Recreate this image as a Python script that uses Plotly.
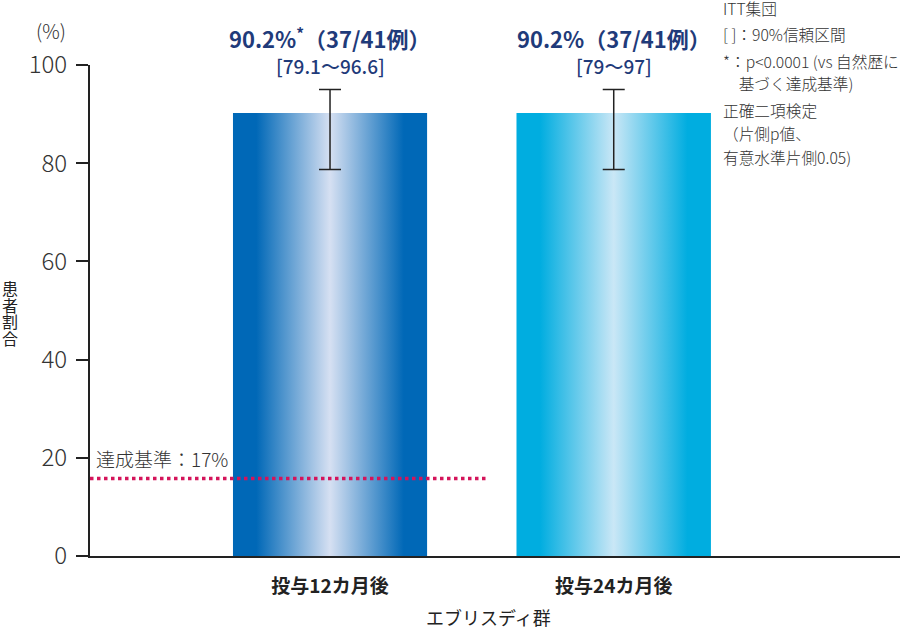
import plotly.graph_objects as go

categories = ["投与12カ月後", "投与24カ月後"]
rates = [90.2, 90.2]
ci_upper = [95.0, 95.0]
ci_lower = [78.7, 78.7]
top_labels = ["90.2%<sup>*</sup>（37/41例）", "90.2%（37/41例）"]
ci_labels = ["[79.1～96.6]", "[79～97]"]
threshold_value = 15.8
threshold_text = "達成基準：17%"
y_ticks = [0, 20, 40, 60, 80, 100]
notes = ["ITT集団", "[ ]：90%信頼区間", "*：p<0.0001 (vs 自然歴に", "　基づく達成基準)",
         "正確二項検定", "（片側p値、", "有意水準片側0.05)"]
y_title = "患者割合"
x_title = "エブリスディ群"

FONT = "Noto Sans CJK JP"
TXT = "#333333"
NAVY = "#1f3b7a"
edge_colors = ["rgb(0,104,183)", "rgb(0,173,224)"]
center_colors = ["rgb(214,224,242)", "rgb(202,231,246)"]

# plot area in page pixels
PL, PR, PT, PB = 90, 900, 65, 556
W, H = 900, 634
def px(x):
    return (x - PL) / (PR - PL)
def py(y):
    return (PB - y) / (PB - PT)

BAR_W = 0.684
xpos = list(range(len(categories)))

fig = go.Figure()
fig.add_trace(go.Bar(x=xpos, y=rates, width=BAR_W,
                     marker=dict(color=edge_colors, line=dict(width=0)),
                     showlegend=False, hoverinfo="skip"))

# horizontal gradient overlay on each bar, built from the same data
for k, (xc, v) in enumerate(zip(xpos, rates)):
    x0, x1 = xc - BAR_W / 2, xc + BAR_W / 2
    fig.add_trace(go.Scatter(
        x=[x0, x1, x1, x0, x0], y=[0, 0, v, v, 0], mode="lines", fill="toself",
        line=dict(width=0, color="rgba(0,0,0,0)"),
        fillgradient=dict(type="horizontal",
                          colorscale=[[0, edge_colors[k]], [0.12, edge_colors[k]],
                                      [0.5, center_colors[k]],
                                      [0.88, edge_colors[k]], [1, edge_colors[k]]]),
        showlegend=False, hoverinfo="skip"))

fig.add_trace(go.Scatter(
    x=xpos, y=rates, mode="markers",
    marker=dict(size=1, color="rgba(0,0,0,0)"),
    error_y=dict(type="data", symmetric=False,
                 array=[u - r for u, r in zip(ci_upper, rates)],
                 arrayminus=[r - l for r, l in zip(rates, ci_lower)],
                 color="#222222", thickness=1.5, width=11),
    showlegend=False, hoverinfo="skip"))

# threshold line
fig.add_shape(type="line", xref="paper", yref="y", x0=0, x1=px(487),
              y0=threshold_value, y1=threshold_value,
              line=dict(color="#d4145a", width=3.5, dash="dot"))
fig.add_annotation(xref="paper", yref="y", x=px(94), y=threshold_value + 1.0,
                   text=threshold_text, showarrow=False, xanchor="left", yanchor="bottom",
                   font=dict(family=FONT, size=19, color=TXT, weight=300))

# bar labels
for k, xc in enumerate(xpos):
    fig.add_annotation(x=xc, xref="x", yref="paper", y=py(38), text="<b>%s</b>" % top_labels[k],
                       showarrow=False, yanchor="middle",
                       font=dict(family=FONT, size=22, color=NAVY))
    fig.add_annotation(x=xc, xref="x", yref="paper", y=py(65), text=ci_labels[k],
                       showarrow=False, yanchor="middle",
                       font=dict(family=FONT, size=19, color=NAVY, weight=500))

# notes
note_y = [8, 35, 61, 84, 110, 133, 157]
for txt, yy in zip(notes, note_y):
    fig.add_annotation(xref="paper", yref="paper", x=px(721), y=py(yy),
                       text=txt, showarrow=False, xanchor="left", yanchor="middle",
                       font=dict(family=FONT, size=15.7, color=TXT, weight=300))

# (%) label
fig.add_annotation(xref="paper", yref="paper", x=px(51), y=py(30),
                   text="(%)", showarrow=False, xanchor="center", yanchor="middle",
                   font=dict(family=FONT, size=19.5, color=TXT, weight=300))
# y title, stacked characters
for j, ch in enumerate(y_title):
    fig.add_annotation(xref="paper", yref="paper", x=px(10), y=py(288 + j * 16.5),
                       text=ch, showarrow=False, xanchor="center", yanchor="middle",
                       font=dict(family=FONT, size=16, color="#222222"))
# x title
fig.add_annotation(xref="paper", yref="paper", x=px(488), y=py(617),
                   text=x_title, showarrow=False, xanchor="center", yanchor="middle",
                   font=dict(family=FONT, size=18, color="#222222"))

fig.update_layout(
    width=W, height=H, margin=dict(l=PL, r=W - PR, t=PT, b=H - PB, autoexpand=False),
    paper_bgcolor="white", plot_bgcolor="white", barmode="overlay",
    xaxis=dict(range=[-0.846, 2.009], tickvals=xpos, ticktext=["<b>%s</b>" % c for c in categories],
               showline=True, linecolor="#222222", linewidth=2,
               ticks="", showgrid=False, zeroline=False, automargin=False,
               tickfont=dict(family=FONT, size=19, color="#222222"), ticklabelstandoff=12),
    yaxis=dict(range=[0, 100], tickvals=y_ticks, showline=True, linecolor="#222222", linewidth=2,
               ticks="outside", ticklen=12, tickwidth=2, tickcolor="#222222", showgrid=False, zeroline=False,
               automargin=False,
               tickfont=dict(family=FONT, size=24, color=TXT, weight=300), ticklabelstandoff=4),
)
fig.write_html("out.html", config={"displayModeBar": False},
               post_script="document.body.style.margin='0';document.body.style.overflow='hidden';")
